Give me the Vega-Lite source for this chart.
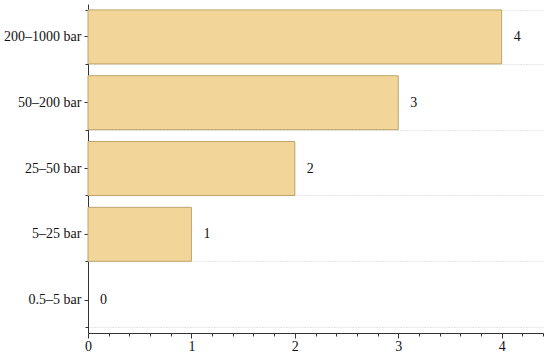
{
  "$schema": "https://vega.github.io/schema/vega-lite/v6.json",
  "width": 455,
  "height": 329,
  "autosize": {"type": "none"},
  "padding": {"left": 88, "top": 4, "right": 7, "bottom": 22},
  "background": "white",
  "config": {
    "view": {"stroke": null},
    "font": "Liberation Serif",
    "axis": {"labelFont": "Liberation Serif", "labelFontSize": 14, "labelColor": "#111", "domainColor": "#333", "tickColor": "#333", "title": null}
  },
  "data": {
    "values": [
      {"range": "200–1000 bar", "count": 4},
      {"range": "50–200 bar", "count": 3},
      {"range": "25–50 bar", "count": 2},
      {"range": "5–25 bar", "count": 1},
      {"range": "0.5–5 bar", "count": 0}
    ]
  },
  "resolve": {"axis": {"x": "independent", "y": "independent"}},
  "layer": [
    {
      "mark": {"type": "bar", "fill": "#f2d699", "stroke": "#bda46c", "strokeWidth": 1},
      "encoding": {
        "y": {"field": "range", "type": "nominal", "sort": null,
              "scale": {"paddingInner": 0.18, "paddingOuter": 0.09},
              "axis": {"orient": "left", "grid": false, "tickSize": 4, "labelPadding": 3, "domainWidth": 1}},
        "x": {"field": "count", "type": "quantitative",
              "scale": {"domain": [0, 4.4], "nice": false},
              "axis": {"orient": "bottom", "values": [0, 1, 2, 3, 4], "grid": false, "tickSize": 5, "labelPadding": 1, "labelFlush": false}},
        "strokeOpacity": {"condition": {"test": "datum.count == 0", "value": 0}, "value": 1}
      }
    },
    {
      "mark": {"type": "text", "align": "left", "dx": 12, "fontSize": 14, "color": "#111", "font": "Liberation Serif"},
      "encoding": {
        "y": {"field": "range", "type": "nominal", "sort": null,
              "axis": {"orient": "left", "tickBand": "extent", "grid": true, "gridDash": [1, 2], "gridColor": "#cccccc", "labels": false, "domain": false, "tickSize": 3}},
        "x": {"field": "count", "type": "quantitative",
              "axis": {"orient": "bottom", "values": [0.2, 0.4, 0.6, 0.8, 1.2, 1.4, 1.6, 1.8, 2.2, 2.4, 2.6, 2.8, 3.2, 3.4, 3.6, 3.8, 4.2, 4.4], "labels": false, "domain": false, "tickSize": 3, "grid": false}},
        "text": {"field": "count", "type": "quantitative"}
      }
    }
  ]
}
